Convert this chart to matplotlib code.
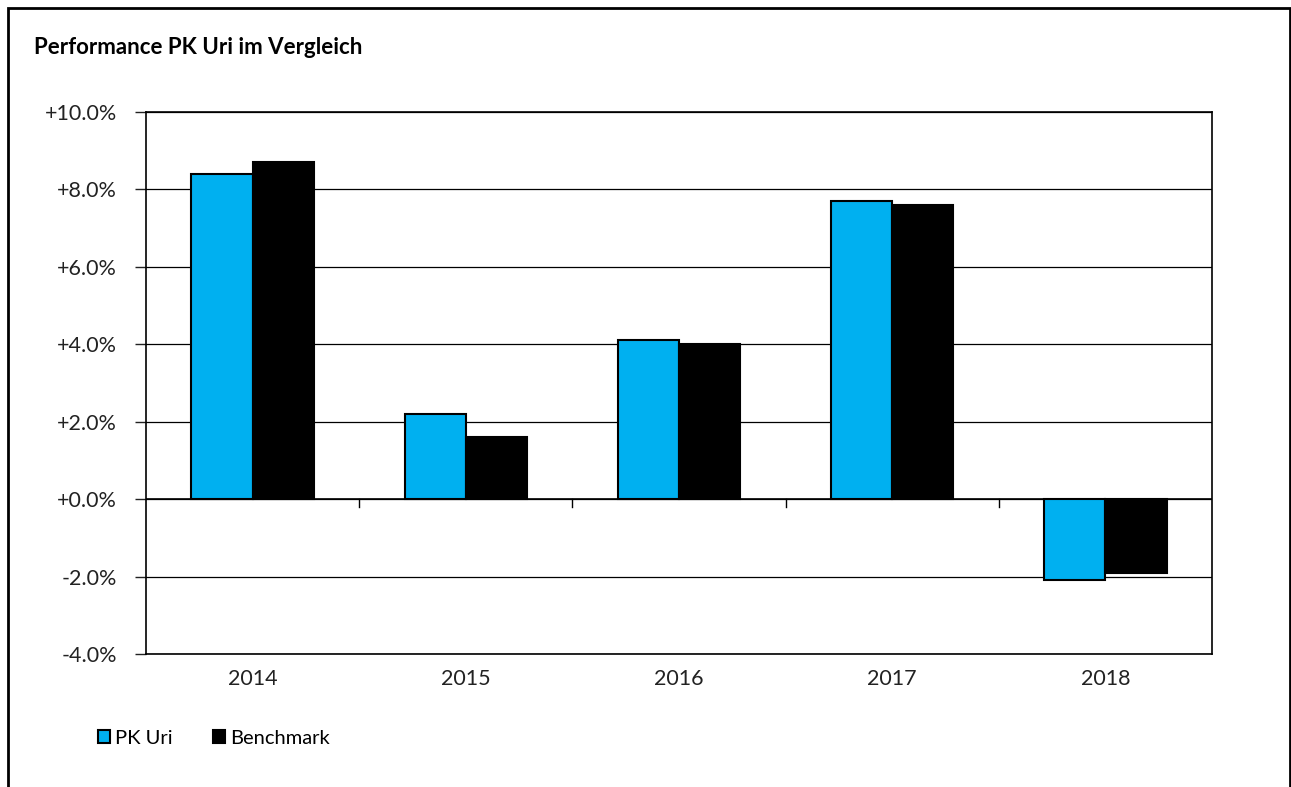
import numpy as np
import matplotlib
matplotlib.use('Agg')
import matplotlib.pyplot as plt
from matplotlib.patches import Rectangle

years = ['2014', '2015', '2016', '2017', '2018']
pk_uri = [8.4, 2.2, 4.1, 7.7, -2.1]
benchmark = [8.7, 1.6, 4.0, 7.6, -1.9]
yticks = [-4, -2, 0, 2, 4, 6, 8, 10]

plt.rcParams['font.family'] = ['Lato', 'DejaVu Sans']

fig = plt.figure(figsize=(12.91, 7.87), dpi=100)
ax = fig.add_axes([146 / 1291, 1 - 654 / 787, (1212 - 146) / 1291, (654 - 112) / 787])

x = np.arange(len(years))
w = 0.287
b1 = ax.bar(x - w / 2, pk_uri, w, color='#00B0F0', edgecolor='black', lw=1.5, label='PK Uri', zorder=3)
b2 = ax.bar(x + w / 2, benchmark, w, color='black', edgecolor='black', lw=1.5, label='Benchmark', zorder=3)

ax.set_xlim(-0.5, len(years) - 0.5)
ax.set_ylim(-4, 10)
ax.set_yticks(yticks)
ax.set_yticklabels([f'{v:+.1f}%' for v in yticks])
ax.yaxis.grid(True, color='black', lw=0.9)
ax.set_axisbelow(True)
ax.tick_params(axis='y', length=8, width=1, labelsize=15.5, pad=13, colors='#222222')
ax.set_xticks(x)
ax.set_xticklabels(years)
ax.tick_params(axis='x', length=0, labelsize=15.5, pad=11, colors='#222222')
for s in ax.spines.values():
    s.set_color('black')
    s.set_linewidth(1.2)

# zero line with category separators
ax.axhline(0, color='black', lw=1.2, zorder=2)
for b in np.arange(0.5, len(years) - 0.5):
    ax.plot([b, b], [0, -0.2], color='black', lw=1, zorder=2)

fig.text(34 / 1291, 1 - 47 / 787, 'Performance PK Uri im Vergleich', fontsize=16,
         fontweight='bold', va='center', ha='left')

fig.legend(handles=[b1[0], b2[0]], labels=['PK Uri', 'Benchmark'], loc='center left',
           bbox_to_anchor=(80 / 1291, 1 - 738 / 787), ncol=2, frameon=False,
           fontsize=14.5, handlelength=0.6, handleheight=0.6, handletextpad=0.25,
           columnspacing=2.0)

fig.add_artist(Rectangle((8 / 1291, -0.01), (1290 - 8) / 1291, 1 - 8 / 787 + 0.01,
                         transform=fig.transFigure, fill=False, ec='black', lw=2))

fig.savefig('out.png', dpi=100)
